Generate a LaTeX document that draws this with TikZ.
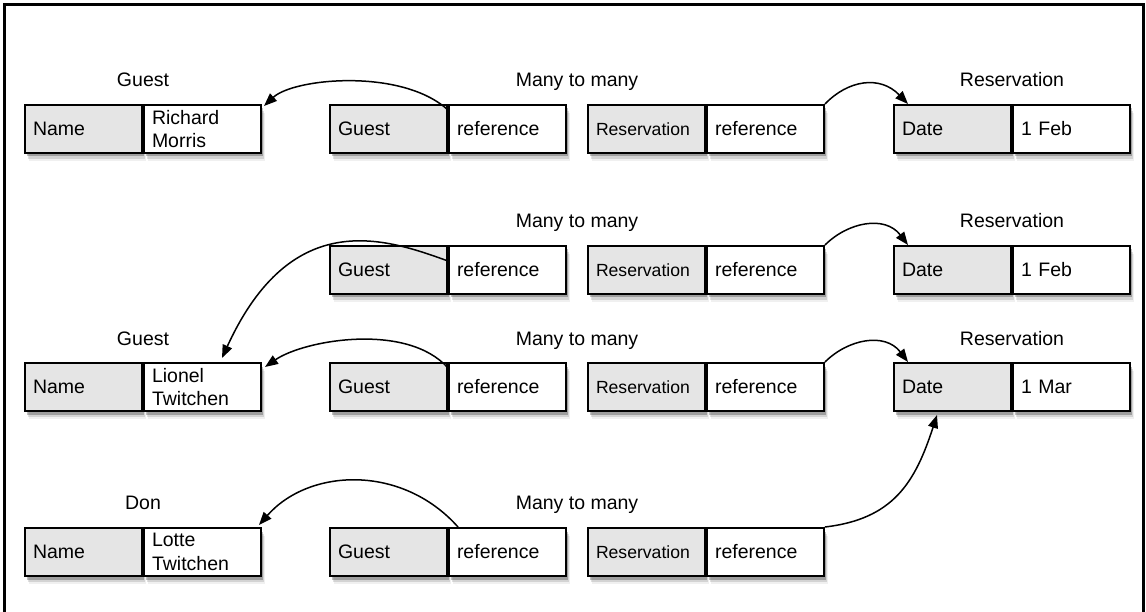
\documentclass[tikz,border=0pt]{standalone}
\usepackage{fontspec}
\setmainfont{Liberation Sans}
\usetikzlibrary{arrows.meta,shadows,calc}
\definecolor{cellgray}{RGB}{229,229,229}
\tikzset{
 cell/.style={draw=black, line width=2pt, minimum width=117pt, minimum height=48pt,
   text width=101pt, inner xsep=8pt, inner ysep=0pt, align=left, anchor=north west,
   font=\fontsize{19.5}{23.5}\selectfont,
   drop shadow={shadow xshift=4pt, shadow yshift=-8pt, opacity=0.06, fill=black},
   drop shadow={shadow xshift=3pt, shadow yshift=-6pt, opacity=0.12, fill=black},
   drop shadow={shadow xshift=2pt, shadow yshift=-3.5pt, opacity=0.25, fill=black}},
 keycell/.style={cell, fill=cellgray},
 valcell/.style={cell, fill=white},
 small/.style={font=\fontsize{17.6}{21}\selectfont},
 lbl/.style={font=\fontsize{19.5}{23.5}\selectfont, inner sep=0pt, anchor=base},
 link/.style={line width=1.5pt, -{Triangle[length=13pt,width=10pt]}},
 frame/.style={line width=2.5pt}
}
\begin{document}
\begin{tikzpicture}[x=1pt,y=-1pt]
\useasboundingbox (0,0) rectangle (1146,612);
\draw[frame] (4.5,620) -- (4.5,4.5) -- (1143.5,4.5) -- (1143.5,620);

% row 1
\node[keycell] (n1l) at (24,104) {Name};
\node[valcell] (n1v) at (n1l.north east) {Richard\\Morris};
\node[keycell] (m1g) at (329,104) {Guest};
\node[valcell] (m1v) at (m1g.north east) {reference};
\node[keycell, small] (r1l) at (587,104) {Reservation};
\node[valcell] (r1v) at (r1l.north east) {reference};
\node[keycell] (d1l) at (893,104) {Date};
\node[valcell] (d1v) at (d1l.north east) {1 Feb};

% row 2
\node[keycell] (m2g) at (329,245) {Guest};
\node[valcell] (m2v) at (m2g.north east) {reference};
\node[keycell, small] (r2l) at (587,245) {Reservation};
\node[valcell] (r2v) at (r2l.north east) {reference};
\node[keycell] (d2l) at (893,245) {Date};
\node[valcell] (d2v) at (d2l.north east) {1 Feb};

% row 3
\node[keycell] (n3l) at (24,362) {Name};
\node[valcell] (n3v) at (n3l.north east) {Lionel\\Twitchen};
\node[keycell] (m3g) at (329,362) {Guest};
\node[valcell] (m3v) at (m3g.north east) {reference};
\node[keycell, small] (r3l) at (587,362) {Reservation};
\node[valcell] (r3v) at (r3l.north east) {reference};
\node[keycell] (d3l) at (893,362) {Date};
\node[valcell] (d3v) at (d3l.north east) {1 Mar};

% row 4
\node[keycell] (n4l) at (24,527) {Name};
\node[valcell] (n4v) at (n4l.north east) {Lotte\\Twitchen};
\node[keycell] (m4g) at (329,527) {Guest};
\node[valcell] (m4v) at (m4g.north east) {reference};
\node[keycell, small] (r4l) at (587,527) {Reservation};
\node[valcell] (r4v) at (r4l.north east) {reference};

% labels
\node[lbl] (t1a) at ($(n1l.north east)+(0,-17)$) {Guest};
\node[lbl] (t1b) at ($(m1g.north west)!0.5!(r1v.north east)+(0,-17)$) {Many to many};
\node[lbl] (t1c) at ($(d1l.north east)+(0,-17)$) {Reservation};
\node[lbl] (t2b) at ($(m2g.north west)!0.5!(r2v.north east)+(0,-17)$) {Many to many};
\node[lbl] (t2c) at ($(d2l.north east)+(0,-17)$) {Reservation};
\node[lbl] (t3a) at ($(n3l.north east)+(0,-17)$) {Guest};
\node[lbl] (t3b) at ($(m3g.north west)!0.5!(r3v.north east)+(0,-17)$) {Many to many};
\node[lbl] (t3c) at ($(d3l.north east)+(0,-17)$) {Reservation};
\node[lbl] (t4a) at ($(n4l.north east)+(0,-18)$) {Don};
\node[lbl] (t4b) at ($(m4g.north west)!0.5!(r4v.north east)+(0,-18)$) {Many to many};

% links to guests
\draw[link] ($(m1g.north east)+(0,6)$) .. controls +(-46,-42) and +(30,-28) .. ($(n1v.north east)+(2,2)$);
\draw[link] ($(m2g.north east)+(0,16)$) .. controls +(-61,-22) and +(70,-153) .. ($(n3v.north west)+(79,-4)$);
\draw[link] ($(m3g.north east)+(0,6)$) .. controls +(-41,-46) and +(39,-27) .. ($(n3v.north east)+(3,5)$);
\draw[link] ($(m4v.north west)+(10,0)$) .. controls +(-56,-63) and +(50,-57) .. ($(n4v.north east)+(-3,-2)$);

% links to reservations
\draw[link] (r1v.north east) .. controls +(23,-24) and +(-28,-29) .. ($(d1l.north west)+(15,0)$);
\draw[link] (r2v.north east) .. controls +(23,-23) and +(-23,-30) .. ($(d2l.north west)+(15,0)$);
\draw[link] (r3v.north east) .. controls +(23,-23) and +(-23,-30) .. ($(d3l.north west)+(15,0)$);
\draw[link] (r4v.north east) .. controls +(68,-8) and +(-22,68) .. ($(d3l.south west)+(44,3)$);
\end{tikzpicture}
\end{document}
